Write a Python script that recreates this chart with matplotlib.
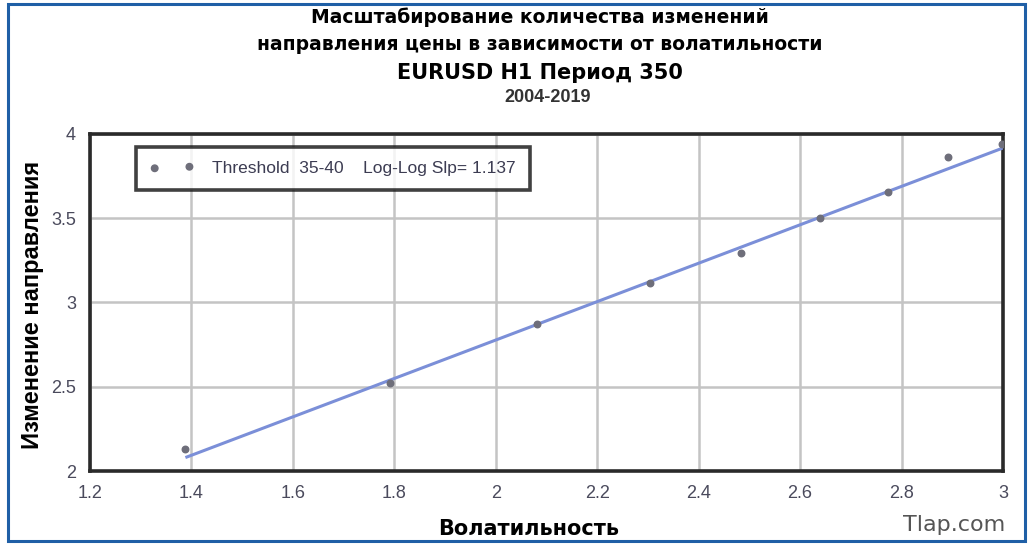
import numpy as np
import matplotlib
matplotlib.use("Agg")
import matplotlib.pyplot as plt
from matplotlib.patches import Rectangle

# points
volatility = [1.387, 1.792, 2.082, 2.305, 2.484, 2.640, 2.774, 2.892, 2.999]
changes = [2.131, 2.522, 2.872, 3.116, 3.294, 3.501, 3.656, 3.863, 3.940]

# fitted line (log-log slope)
fit_x = [1.391, 3.0]
fit_y = [2.083, 3.917]

x_ticks = [1.2, 1.4, 1.6, 1.8, 2.0, 2.2, 2.4, 2.6, 2.8, 3.0]
x_labels = ["1.2", "1.4", "1.6", "1.8", "2", "2.2", "2.4", "2.6", "2.8", "3"]
y_ticks = [2.0, 2.5, 3.0, 3.5, 4.0]
y_labels = ["2", "2.5", "3", "3.5", "4"]

title_lines = ["Масштабирование количества изменений",
               "направления цены в зависимости от волатильности",
               "EURUSD H1 Период 350"]
years = "2004-2019"
legend_text = "Threshold  35-40    Log-Log Slp= 1.137"

fig = plt.figure(figsize=(10.34, 5.48), dpi=100)
ax = fig.add_axes([0.087, 0.1405, 0.883, 0.615])

ax.plot(fit_x, fit_y, color="#7b8fd8", lw=2.2, zorder=3)
ax.scatter(volatility, changes, s=22, color="#6e6e7a", zorder=4, label=legend_text)

ax.set_xlim(1.2, 3.0)
ax.set_ylim(2.0, 4.0)
ax.set_xticks(x_ticks)
ax.set_xticklabels(x_labels)
ax.set_yticks(y_ticks)
ax.set_yticklabels(y_labels)
ax.tick_params(length=0, pad=10, labelsize=13, colors="#4a4a5c")
for lab in ax.get_xticklabels() + ax.get_yticklabels():
    lab.set_fontfamily("Liberation Sans")
ax.grid(True, color="#c4c4c4", lw=1.8)
ax.set_axisbelow(True)
for sp in ax.spines.values():
    sp.set_linewidth(2.6)
    sp.set_color("#2a2a2a")

leg = ax.legend(loc="upper left", bbox_to_anchor=(0.05, 0.962), borderaxespad=0,
                scatterpoints=2, handlelength=2.6, fancybox=False, frameon=True,
                borderpad=0.8, handletextpad=1.0,
                prop={"family": "Liberation Sans", "size": 12.5})
leg.get_frame().set_edgecolor("#111111")
leg.get_frame().set_linewidth(2.6)
for t in leg.get_texts():
    t.set_color("#3c3c52")

# titles
fig.text(0.522, 0.968, title_lines[0], ha="center", va="center", fontsize=13.5,
         fontweight="bold")
fig.text(0.522, 0.918, title_lines[1], ha="center", va="center", fontsize=13.5,
         fontweight="bold")
fig.text(0.522, 0.866, title_lines[2], ha="center", va="center", fontsize=15,
         fontweight="bold")
fig.text(0.530, 0.822, years, ha="center", va="center", fontsize=13,
         fontweight="bold", family="Liberation Sans", color="#333333")

fig.text(0.031, 0.443, "Изменение направления", rotation=90, ha="center", va="center",
         fontsize=17, fontweight="bold", family="Liberation Sans")
fig.text(0.511, 0.035, "Волатильность", ha="center", va="center",
         fontsize=15, fontweight="bold")
fig.text(0.923, 0.042, "Tlap.com", ha="center", va="center", fontsize=16, color="#555555")

# blue frame round the picture
fig.patches.append(Rectangle((0.008, 0.013), 0.983, 0.98, transform=fig.transFigure,
                             fill=False, edgecolor="#1f5fa6", lw=2.2))

fig.savefig("out.png", dpi=100)
